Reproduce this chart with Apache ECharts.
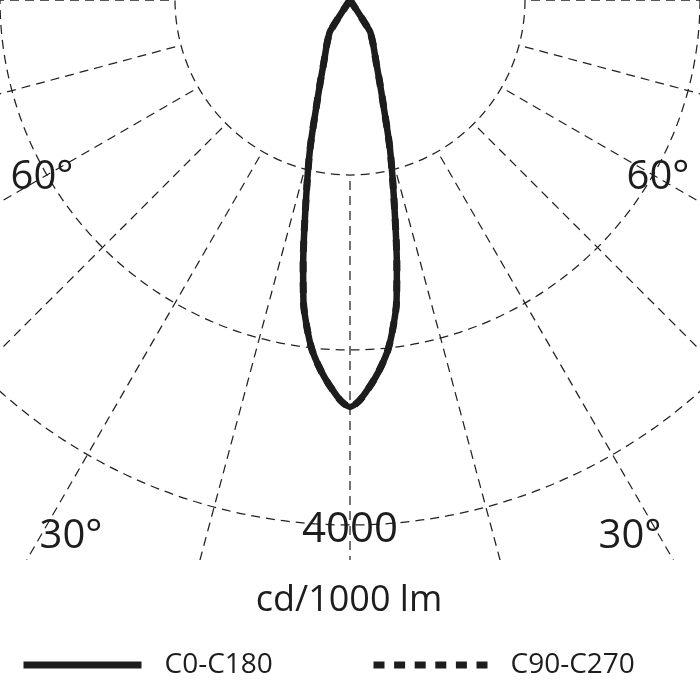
<!DOCTYPE html>
<html>
<head>
<meta charset="utf-8">
<script src="https://cdn.jsdelivr.net/npm/echarts@6/dist/echarts.min.js"></script>
<style>html,body{margin:0;padding:0;background:#fff}#c{width:700px;height:700px}</style>
</head>
<body>
<div id="c"></div>
<script>
// gamma angles (deg), 0 = straight down
const gammaAngles = [-90,-80,-70,-60,-50,-40,-35,-32.5,-30,-27.5,-25,-22.5,-20,-17.5,-15,-12.5,-10,-8.75,-7.5,-6.25,-5,-3.75,-2.5,-1.25,0,1.25,2.5,3.75,5,6.25,7.5,8.75,10,12.5,15,17.5,20,22.5,25,27.5,30,32.5,35,40,50,60,70,80,90];
// luminous intensity cd/1000 lm
const c0c180 = [0,0,0,0,0,0,0,280,330,383,443,526,658,854,1177,1545,2056,2330,2515,2675,2790,2890,2978,3058,3100,3058,2978,2890,2790,2675,2515,2330,2056,1545,1177,854,658,526,443,383,330,280,0,0,0,0,0,0,0];
const c90c270 = [0,0,0,0,0,0,0,280,330,383,443,526,658,854,1177,1545,2056,2330,2515,2675,2790,2890,2978,3058,3100,3058,2978,2890,2790,2675,2515,2330,2056,1545,1177,854,658,526,443,383,330,280,0,0,0,0,0,0,0];
const radiusMax = 4000;
const ringCount = 3;
const angleStep = 15;
const angleLabels = [{t:'60°',x:42,y:178},{t:'60°',x:658,y:178},{t:'30°',x:71,y:537},{t:'30°',x:630,y:537}];
const unitLabel = 'cd/1000 lm';
const seriesNames = ['C0-C180','C90-C270'];

const FONT = '"Open Sans", "Noto Sans", sans-serif';
const INK = '#1d1d1d';
const gridStyle = {color:'#222', width:1.25, type:[9,6]};

const chart = echarts.init(document.getElementById('c'), null, {renderer:'canvas'});
const toPairs = vals => vals.map((v,i)=>[v, gammaAngles[i]]);
const hiddenSymbol = {color:'rgba(0,0,0,0)', borderWidth:0, opacity:0};

const option = {
  backgroundColor:'#fff',
  animation:false,
  polar:[
    {center:[350,0], radius:525},
    {center:[350,0], radius:[175,760]}
  ],
  angleAxis:[
    {polarIndex:0, type:'value', min:-180, max:180, startAngle:90, clockwise:true,
     axisLine:{show:false}, axisTick:{show:false}, axisLabel:{show:false}, splitLine:{show:false}},
    {polarIndex:1, type:'value', min:-180, max:180, interval:angleStep, startAngle:90, clockwise:true,
     axisLine:{show:false}, axisTick:{show:false}, axisLabel:{show:false},
     splitLine:{show:true, lineStyle:gridStyle}}
  ],
  radiusAxis:[
    {polarIndex:0, type:'value', min:0, max:radiusMax, interval:radiusMax/ringCount,
     axisLine:{show:false}, axisTick:{show:false}, axisLabel:{show:false},
     splitLine:{show:true, lineStyle:gridStyle}},
    {polarIndex:1, type:'value', min:0, max:1, show:false,
     axisLine:{show:false}, axisTick:{show:false}, axisLabel:{show:false}, splitLine:{show:false}}
  ],
  legend:[
    {data:[seriesNames[0]], left:20, top:651, padding:0, itemWidth:118, itemHeight:14,
     lineStyle:{width:7, cap:'butt'}, itemStyle:hiddenSymbol,
     textStyle:{fontFamily:FONT, fontSize:28, color:INK, padding:[0,0,0,18]}},
    {data:[seriesNames[1]], left:370, top:651, padding:0, itemWidth:114, itemHeight:14,
     lineStyle:{width:7, type:[11,9.6], cap:'butt'}, itemStyle:hiddenSymbol,
     textStyle:{fontFamily:FONT, fontSize:28, color:INK, padding:[0,0,0,18]}}
  ],
  series:[
    {name:seriesNames[1], type:'line', coordinateSystem:'polar', polarIndex:0, data:toPairs(c90c270),
     symbol:'none', smooth:0.3, z:2,
     lineStyle:{color:INK, width:7, type:[11,9.6], cap:'butt'}, itemStyle:{color:INK}},
    {name:seriesNames[0], type:'line', coordinateSystem:'polar', polarIndex:0, data:toPairs(c0c180),
     symbol:'none', smooth:0.3, z:3,
     lineStyle:{color:INK, width:6.5, join:'round'}, itemStyle:{color:INK}}
  ],
  graphic:[
    {type:'rect', z:1, shape:{x:0,y:560,width:700,height:140}, style:{fill:'#fff'}},
    {type:'text', z:10, x:350, y:530, style:{text:String(radiusMax), font:'42px '+FONT, fill:INK, align:'center', verticalAlign:'middle'}},
    {type:'text', z:10, x:349, y:601, style:{text:unitLabel, font:'36px '+FONT, fill:INK, align:'center', verticalAlign:'middle'}}
  ].concat(angleLabels.map(l=>({type:'text', z:10, x:l.x, y:l.y,
     style:{text:l.t, font:'40px '+FONT, fill:INK, align:'center', verticalAlign:'middle'}})))
};
chart.setOption(option);
</script>
</body>
</html>
